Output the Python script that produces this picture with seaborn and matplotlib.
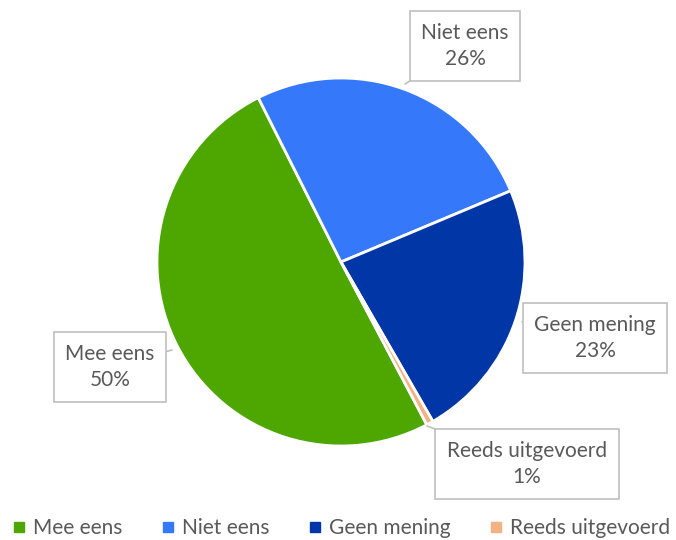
import matplotlib.pyplot as plt
import seaborn as sns
from matplotlib.lines import Line2D

sns.set_theme(style="white")
plt.rcParams['font.family'] = ['Lato', 'DejaVu Sans']

# chart data
categories = ["Mee eens", "Niet eens", "Geen mening", "Reeds uitgevoerd"]
shares = [50.3, 26.1, 23.0, 0.6]
colors = ["#4ea600", "#3578fa", "#0036a6", "#f4b183"]

# label box centres and where their pointer touches the pie (pixel coords)
label_pos = [(110, 367), (465, 46), (595, 338), (527, 464)]
label_tip = [(172, 350), (405, 84), (522, 322), (427, 426)]

W, H = 676, 540
fig = plt.figure(figsize=(W / 100, H / 100), dpi=100)
ax = fig.add_axes([0, 0, 1, 1])

cx, cy, r = 341, 262, 184
# y axis is flipped, so "counterclock" in data space reads clockwise on screen
wedges, _ = ax.pie(shares, colors=colors, center=(cx, cy), radius=r,
                   startangle=62.2, counterclock=True,
                   wedgeprops=dict(edgecolor='white', linewidth=2),
                   frame=True)
ax.set_xlim(0, W)
ax.set_ylim(H, 0)
ax.set_aspect('equal')
ax.axis('off')

for name, val, pos, tip in zip(categories, shares, label_pos, label_tip):
    ax.annotate(f"{name}\n{val:.0f}%", xy=tip, xytext=pos,
                ha='center', va='center', fontsize=15, color='#595959',
                linespacing=1.4,
                bbox=dict(boxstyle='square,pad=0.55', fc='white', ec='#bfbfbf', lw=1.2),
                arrowprops=dict(arrowstyle='-', color='#bfbfbf', lw=1.2,
                                shrinkA=0, shrinkB=0))

handles = [Line2D([], [], marker='s', linestyle='', markersize=7,
                  markerfacecolor=c, markeredgecolor=c) for c in colors]
leg = fig.legend(handles, categories, loc='center', bbox_to_anchor=(0.505, 0.022),
                 ncol=4, frameon=False, fontsize=15, handlelength=0.6,
                 handletextpad=0.35, columnspacing=1.9, borderpad=0)
for t in leg.get_texts():
    t.set_color('#595959')

fig.savefig('out.png', dpi=100)
